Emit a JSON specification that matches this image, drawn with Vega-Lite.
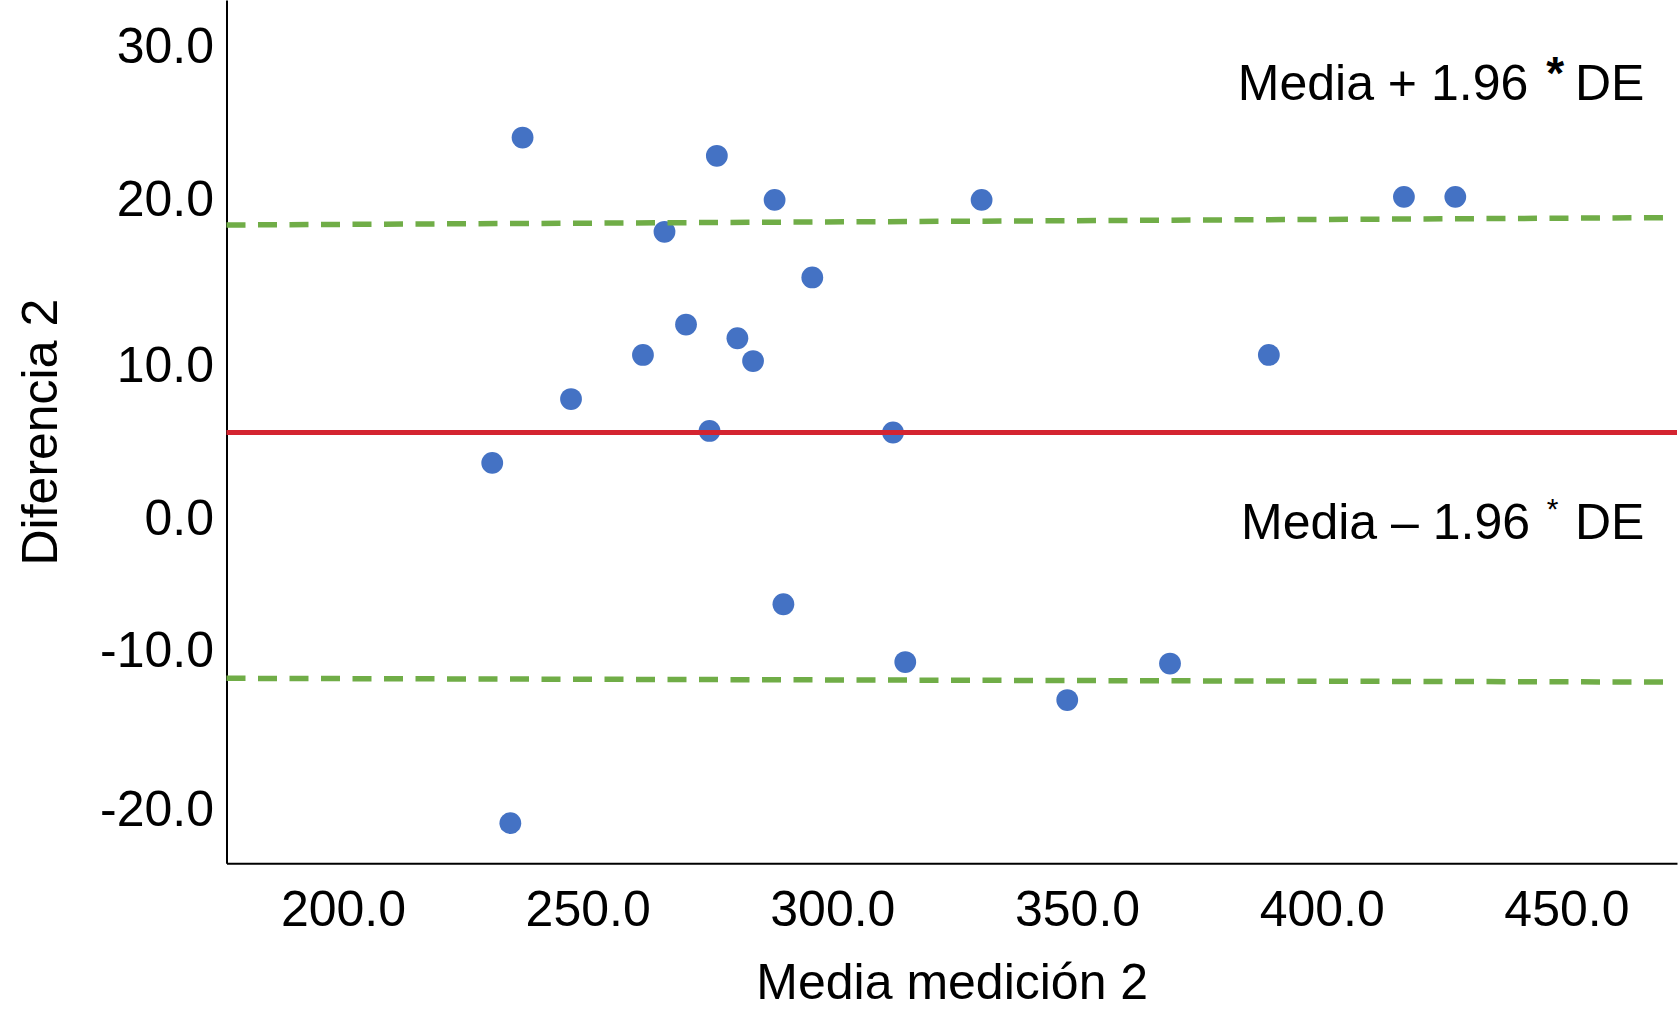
{
  "$schema": "https://vega.github.io/schema/vega-lite/v6.json",
  "width": 1450.5,
  "height": 863.3,
  "autosize": {"type": "none"},
  "padding": {"left": 226.5, "top": 0, "right": 3, "bottom": 160},
  "background": "white",
  "config": {"view": {"stroke": null}, "font": "Liberation Sans"},
  "datasets": {
    "puntos": [
      {"media": 236.7, "diferencia": 24.4},
      {"media": 276.4, "diferencia": 23.2},
      {"media": 288.2, "diferencia": 20.3},
      {"media": 330.5, "diferencia": 20.3},
      {"media": 416.8, "diferencia": 20.5},
      {"media": 427.3, "diferencia": 20.5},
      {"media": 265.7, "diferencia": 18.2},
      {"media": 295.9, "diferencia": 15.2},
      {"media": 270.1, "diferencia": 12.1},
      {"media": 280.6, "diferencia": 11.2},
      {"media": 261.3, "diferencia": 10.1},
      {"media": 283.8, "diferencia": 9.7},
      {"media": 389.2, "diferencia": 10.1},
      {"media": 246.6, "diferencia": 7.2},
      {"media": 274.9, "diferencia": 5.1},
      {"media": 312.4, "diferencia": 5.0},
      {"media": 230.5, "diferencia": 3.0},
      {"media": 290.0, "diferencia": -6.3},
      {"media": 314.9, "diferencia": -10.1},
      {"media": 369.0, "diferencia": -10.2},
      {"media": 348.0, "diferencia": -12.6},
      {"media": 234.2, "diferencia": -20.7}
    ],
    "lineas": [
      {"serie": "media", "media": 176.2, "diferencia": 5.0},
      {"serie": "media", "media": 472.6, "diferencia": 5.0},
      {"serie": "superior", "media": 176.2, "diferencia": 18.65},
      {"serie": "superior", "media": 470.0, "diferencia": 19.13},
      {"serie": "inferior", "media": 176.2, "diferencia": -11.17},
      {"serie": "inferior", "media": 470.0, "diferencia": -11.42}
    ],
    "notas": [
      {"parte": "texto", "texto": "Media + 1.96", "media": 442.2, "diferencia": 26.84},
      {"parte": "texto", "texto": "Media – 1.96", "media": 442.56, "diferencia": -2.0},
      {"parte": "de", "texto": "DE", "media": 451.75, "diferencia": 26.84},
      {"parte": "de", "texto": "DE", "media": 451.75, "diferencia": -2.0},
      {"parte": "ast1", "texto": "*", "media": 447.7, "diferencia": 27.6},
      {"parte": "ast2", "texto": "*", "media": 447.2, "diferencia": -0.69}
    ]
  },
  "layer": [
    {
      "data": {"name": "puntos"},
      "mark": {"type": "circle", "size": 475, "opacity": 1, "color": "#4472C4"},
      "encoding": {
        "x": {
          "field": "media", "type": "quantitative", "title": "Media medición 2",
          "scale": {"domain": [176.2, 472.6], "nice": false, "zero": false},
          "axis": {
            "values": [200, 250, 300, 350, 400, 450], "format": ".1f",
            "ticks": false, "grid": false, "domainColor": "#000000", "domainWidth": 2,
            "labelFontSize": 50, "labelColor": "#000000", "labelFont": "Liberation Sans",
            "labelPadding": 22, "labelFlush": false, "labelOverlap": false,
            "titleFontSize": 50, "titleFontWeight": "normal", "titleColor": "#000000",
            "titleFont": "Liberation Sans", "titlePadding": 23
          }
        },
        "y": {
          "field": "diferencia", "type": "quantitative", "title": "Diferencia 2",
          "scale": {"domain": [-23.34, 33.45], "nice": false, "zero": false},
          "axis": {
            "values": [-20, -10, 0, 10, 20, 30],
            "labelExpr": "datum.value < 0 ? '-' + format(-datum.value, '.1f') : format(datum.value, '.1f')",
            "labelOffset": {
              "condition": [
                {"test": "datum.value === 30", "value": -5},
                {"test": "datum.value === 20", "value": -4},
                {"test": "datum.value === 10", "value": 10},
                {"test": "datum.value === 0", "value": 11},
                {"test": "datum.value === -10", "value": -9},
                {"test": "datum.value === -20", "value": -2}
              ],
              "value": 0
            },
            "ticks": false, "grid": false, "domainColor": "#000000", "domainWidth": 2,
            "labelFontSize": 50, "labelColor": "#000000", "labelFont": "Liberation Sans",
            "labelPadding": 13, "labelFlush": false, "labelOverlap": false,
            "titleFontSize": 50, "titleFontWeight": "normal", "titleColor": "#000000",
            "titleFont": "Liberation Sans", "titlePadding": 33
          }
        }
      }
    },
    {
      "data": {"name": "lineas"},
      "transform": [{"filter": "datum.serie === 'media'"}],
      "mark": {"type": "line", "color": "#D42430", "strokeWidth": 5},
      "encoding": {
        "x": {"field": "media", "type": "quantitative"},
        "y": {"field": "diferencia", "type": "quantitative"}
      }
    },
    {
      "data": {"name": "lineas"},
      "transform": [{"filter": "datum.serie !== 'media'"}],
      "mark": {"type": "line", "color": "#70AD47", "strokeWidth": 5.5, "strokeDash": [19, 12.5]},
      "encoding": {
        "x": {"field": "media", "type": "quantitative"},
        "y": {"field": "diferencia", "type": "quantitative"},
        "detail": {"field": "serie"}
      }
    },
    {
      "data": {"name": "notas"},
      "transform": [{"filter": "datum.parte === 'texto'"}],
      "mark": {"type": "text", "align": "right", "baseline": "alphabetic", "fontSize": 50, "color": "#000000", "font": "Liberation Sans"},
      "encoding": {
        "x": {"field": "media", "type": "quantitative"},
        "y": {"field": "diferencia", "type": "quantitative"},
        "text": {"field": "texto"}
      }
    },
    {
      "data": {"name": "notas"},
      "transform": [{"filter": "datum.parte === 'de'"}],
      "mark": {"type": "text", "align": "left", "baseline": "alphabetic", "fontSize": 50, "color": "#000000", "font": "Liberation Sans"},
      "encoding": {
        "x": {"field": "media", "type": "quantitative"},
        "y": {"field": "diferencia", "type": "quantitative"},
        "text": {"field": "texto"}
      }
    },
    {
      "data": {"name": "notas"},
      "transform": [{"filter": "datum.parte === 'ast1'"}],
      "mark": {"type": "text", "align": "center", "baseline": "alphabetic", "fontSize": 46, "fontWeight": "bold", "color": "#000000", "font": "Liberation Sans"},
      "encoding": {
        "x": {"field": "media", "type": "quantitative"},
        "y": {"field": "diferencia", "type": "quantitative"},
        "text": {"field": "texto"}
      }
    },
    {
      "data": {"name": "notas"},
      "transform": [{"filter": "datum.parte === 'ast2'"}],
      "mark": {"type": "text", "align": "center", "baseline": "alphabetic", "fontSize": 30, "color": "#000000", "font": "Liberation Sans"},
      "encoding": {
        "x": {"field": "media", "type": "quantitative"},
        "y": {"field": "diferencia", "type": "quantitative"},
        "text": {"field": "texto"}
      }
    }
  ]
}
